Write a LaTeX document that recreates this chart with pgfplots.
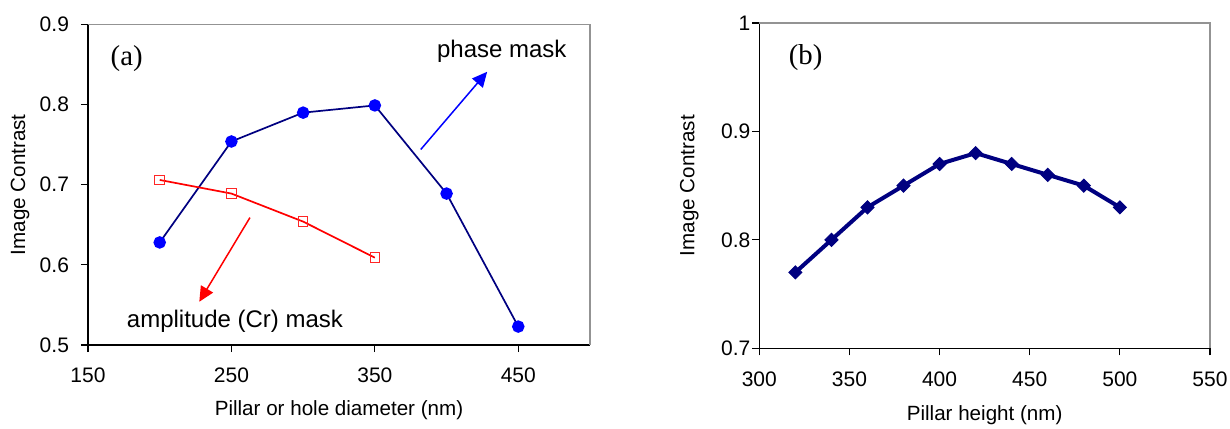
\documentclass[border=0pt]{standalone}
\usepackage{fontspec}
\setmainfont{Liberation Sans}
\newfontfamily\tnr{Liberation Serif}
\usepackage{pgfplots}
\pgfplotsset{compat=1.18}
\usetikzlibrary{arrows.meta}

\definecolor{navyline}{RGB}{0,0,128}
\definecolor{markblue}{RGB}{0,0,255}
\definecolor{ampred}{RGB}{255,0,0}

\pgfplotsset{
  panel/.style={
    scale only axis, clip=false,
    axis lines=left, axis line style={-, black, line width=0.6pt},
    tick align=outside, major tick length=3.5pt,
    tick style={black, line width=0.6pt},
    ticklabel style={font=\fontsize{10.5}{12}\selectfont},
    /pgf/number format/assume math mode=true,
    label style={font=\fontsize{10.3}{12}\selectfont},
    after end axis/.code={
      \draw[gray!85, line width=0.6pt] (rel axis cs:0,1) -- (rel axis cs:1,1) -- (rel axis cs:1,0);
    },
  },
}

\begin{document}
\begin{tikzpicture}
\useasboundingbox (-44pt,-41.5pt) rectangle (571pt,172.5pt);

% (a) contrast against pillar or hole diameter
\begin{axis}[panel, at={(0pt,0pt)}, anchor=south west,
  width=251pt, height=160.25pt,
  xmin=150, xmax=500, ymin=0.5, ymax=0.9,
  xtick={150,250,350,450}, ytick={0.5,0.6,0.7,0.8,0.9},
  yticklabel style={xshift=-2.5pt},
  xticklabel style={yshift=-4.5pt},
  xlabel={Pillar or hole diameter (nm)}, ylabel={Image Contrast},
  xlabel style={at={(axis description cs:0.5,-0.2028)}, anchor=center},
  ylabel style={at={(axis description cs:-0.1355,0.5)}, anchor=center}]
\addplot[navyline, line width=0.85pt, mark=*, mark size=2.7pt,
  mark options={draw=markblue, fill=markblue}]
  coordinates {(200,0.628) (250,0.754) (300,0.790) (350,0.799) (400,0.689) (450,0.523)};
\addplot[ampred, line width=0.85pt, mark=square, mark size=2.4pt,
  mark options={draw=ampred!85, fill=white, line width=0.5pt}]
  coordinates {(200,0.706) (250,0.689) (300,0.654) (350,0.609)};
\draw[ampred, line width=0.75pt, -{Triangle[length=7.5pt,width=7pt]}]
  (axis cs:262.9,0.659) -- (axis cs:227.6,0.554);
\draw[markblue, line width=0.75pt, -{Triangle[length=7.5pt,width=7pt]}]
  (axis cs:382,0.744) -- (axis cs:428.3,0.841);
\node[font=\fontsize{12}{14}\selectfont] at (axis cs:438.5,0.866) {phase mask};
\node[font=\fontsize{12}{14}\selectfont] at (axis cs:252.5,0.529) {amplitude (Cr) mask};
\node[font=\tnr\fontsize{14.4}{16}\selectfont] at (axis cs:177,0.858) {(a)};
\end{axis}

% (b) contrast against pillar height
\begin{axis}[panel, at={(335.65pt,-1.65pt)}, anchor=south west,
  width=225.35pt, height=162.65pt,
  xmin=300, xmax=550, ymin=0.7, ymax=1,
  xtick={300,350,400,450,500,550}, ytick={0.7,0.8,0.9,1},
  yticklabel style={inner sep=0.8pt},
  xticklabel style={yshift=-4.5pt},
  xlabel={Pillar height (nm)}, ylabel={Image Contrast},
  xlabel style={at={(axis description cs:0.5,-0.2047)}, anchor=center},
  ylabel style={at={(axis description cs:-0.1553,0.5)}, anchor=center}]
\addplot[navyline, line width=2pt, mark=square*, mark size=2.3pt,
  mark options={rotate=45, fill=navyline, line width=0.5pt}]
  coordinates {(320,0.77) (340,0.80) (360,0.83) (380,0.85) (400,0.87)
               (420,0.88) (440,0.87) (460,0.86) (480,0.85) (500,0.83)};
\node[font=\tnr\fontsize{14.4}{16}\selectfont] at (axis cs:325.7,0.968) {(b)};
\end{axis}
\end{tikzpicture}
\end{document}
